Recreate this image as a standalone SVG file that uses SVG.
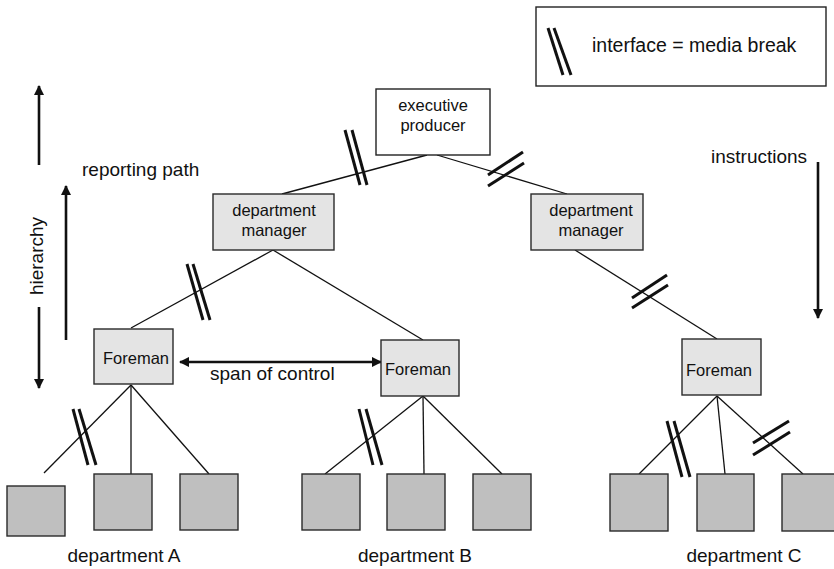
<svg xmlns="http://www.w3.org/2000/svg" width="834" height="569" viewBox="0 0 834 569">
  <style>
    .lbl { font-family: "Liberation Sans", Arial, sans-serif; fill: #111; }
    .box-text { font-size: 16.5px; text-anchor: middle; }
    .side { font-size: 19px; }
    .head { fill: #fff; stroke: #222; stroke-width: 1.4; }
    .mid { fill: #e4e4e4; stroke: #2a2a2a; stroke-width: 1.4; }
    .unit { fill: #bfbfbf; stroke: #2a2a2a; stroke-width: 1.4; }
    .edge { stroke: #111; stroke-width: 1.3; fill: none; }
    .brk { stroke: #111; stroke-width: 3; fill: none; }
    .arr { stroke: #111; stroke-width: 2.6; fill: none; }
  </style>
  <defs>
    <marker id="tip" viewBox="0 0 10 10" refX="9" refY="5" markerWidth="4" markerHeight="4" orient="auto-start-reverse" markerUnits="strokeWidth">
      <path d="M0,0 L10,5 L0,10 z" fill="#111"/>
    </marker>
  </defs>

  <!-- legend -->
  <g id="legend">
    <rect x="536" y="7" width="290" height="79" fill="#fff" stroke="#222" stroke-width="1.4"/>
    <line class="brk" x1="548" y1="28" x2="563" y2="75"/>
    <line class="brk" x1="554" y1="28" x2="571" y2="75"/>
    <text class="lbl" x="592" y="52" font-size="19.5">interface = media break</text>
  </g>

  <!-- connectors -->
  <g id="connectors">
    <line class="edge" x1="427" y1="155" x2="282" y2="194"/>
    <line class="edge" x1="437" y1="155" x2="567" y2="194"/>
    <line class="edge" x1="273" y1="250" x2="131" y2="328"/>
    <line class="edge" x1="273" y1="250" x2="423" y2="340"/>
    <line class="edge" x1="575" y1="250" x2="717" y2="339"/>
    <!-- department A -->
    <line class="edge" x1="131" y1="385" x2="44" y2="473"/>
    <line class="edge" x1="131" y1="385" x2="131" y2="474"/>
    <line class="edge" x1="131" y1="385" x2="209" y2="474"/>
    <!-- department B -->
    <line class="edge" x1="423" y1="396" x2="325" y2="474"/>
    <line class="edge" x1="423" y1="396" x2="424" y2="474"/>
    <line class="edge" x1="423" y1="396" x2="502" y2="474"/>
    <!-- department C -->
    <line class="edge" x1="717" y1="396" x2="639" y2="474"/>
    <line class="edge" x1="717" y1="396" x2="725" y2="474"/>
    <line class="edge" x1="717" y1="396" x2="803" y2="474"/>

    <!-- media breaks -->
    <line class="brk" x1="345" y1="130" x2="360" y2="185"/>
    <line class="brk" x1="352" y1="130" x2="367" y2="185"/>
    <line class="brk" x1="488" y1="175" x2="523" y2="152"/>
    <line class="brk" x1="488" y1="186" x2="524" y2="163"/>
    <line class="brk" x1="187" y1="264" x2="203" y2="320"/>
    <line class="brk" x1="193" y1="264" x2="210" y2="320"/>
    <line class="brk" x1="632" y1="298" x2="667" y2="275"/>
    <line class="brk" x1="632" y1="308" x2="668" y2="285"/>
    <line class="brk" x1="73" y1="409" x2="88" y2="465"/>
    <line class="brk" x1="79" y1="409" x2="96" y2="465"/>
    <line class="brk" x1="359" y1="409" x2="373" y2="465"/>
    <line class="brk" x1="366" y1="409" x2="382" y2="465"/>
    <line class="brk" x1="667" y1="421" x2="682" y2="477"/>
    <line class="brk" x1="674" y1="421" x2="690" y2="477"/>
    <line class="brk" x1="753" y1="443" x2="789" y2="421"/>
    <line class="brk" x1="753" y1="455" x2="790" y2="432"/>

    <!-- span of control -->
    <line class="arr" x1="180" y1="362" x2="381" y2="362" marker-start="url(#tip)" marker-end="url(#tip)"/>
  </g>

  <!-- side arrows and labels -->
  <g id="hierarchy">
    <line class="arr" x1="39" y1="165" x2="39" y2="86" stroke-width="2.2" marker-end="url(#tip)"/>
    <line class="arr" x1="39" y1="307" x2="39" y2="388" stroke-width="2.2" marker-end="url(#tip)"/>
    <text class="lbl side" transform="translate(43,256) rotate(-90)" text-anchor="middle">hierarchy</text>
  </g>
  <g id="reporting-path">
    <line class="arr" x1="66" y1="340" x2="66" y2="186" stroke-width="3" marker-end="url(#tip)"/>
    <text class="lbl side" x="82" y="176">reporting path</text>
  </g>
  <g id="instructions">
    <line class="arr" x1="818" y1="162" x2="818" y2="318" stroke-width="2.6" marker-end="url(#tip)"/>
    <text class="lbl side" x="711" y="163">instructions</text>
  </g>
  <text class="lbl side" x="210" y="380">span of control</text>

  <!-- nodes -->
  <g id="executive-producer">
    <rect class="head" x="376" y="89" width="114" height="66"/>
    <text class="lbl box-text" x="433" y="111">executive</text>
    <text class="lbl box-text" x="433" y="131">producer</text>
  </g>
  <g id="manager-left">
    <rect class="mid" x="213" y="194" width="121" height="56"/>
    <text class="lbl box-text" x="274" y="216">department</text>
    <text class="lbl box-text" x="274" y="236">manager</text>
  </g>
  <g id="manager-right">
    <rect class="mid" x="531" y="194" width="112" height="56"/>
    <text class="lbl box-text" x="591" y="216">department</text>
    <text class="lbl box-text" x="591" y="236">manager</text>
  </g>
  <g id="foreman-a">
    <rect class="mid" x="94" y="329" width="79" height="55"/>
    <text class="lbl box-text" x="136" y="364">Foreman</text>
  </g>
  <g id="foreman-b">
    <rect class="mid" x="381" y="340" width="78" height="56"/>
    <text class="lbl box-text" x="418" y="375">Foreman</text>
  </g>
  <g id="foreman-c">
    <rect class="mid" x="682" y="339" width="79" height="56"/>
    <text class="lbl box-text" x="719" y="376">Foreman</text>
  </g>

  <g id="dept-a">
    <rect class="unit" x="7" y="486" width="58" height="50"/>
    <rect class="unit" x="94" y="474" width="58" height="56"/>
    <rect class="unit" x="180" y="474" width="58" height="56"/>
    <text class="lbl side" x="124" y="562" text-anchor="middle">department A</text>
  </g>
  <g id="dept-b">
    <rect class="unit" x="302" y="474" width="58" height="56"/>
    <rect class="unit" x="387" y="474" width="58" height="56"/>
    <rect class="unit" x="473" y="474" width="58" height="56"/>
    <text class="lbl side" x="415" y="562" text-anchor="middle">department B</text>
  </g>
  <g id="dept-c">
    <rect class="unit" x="610" y="474" width="58" height="57"/>
    <rect class="unit" x="697" y="474" width="57" height="57"/>
    <rect class="unit" x="782" y="474" width="60" height="57"/>
    <text class="lbl side" x="744" y="562" text-anchor="middle">department C</text>
  </g>
</svg>
